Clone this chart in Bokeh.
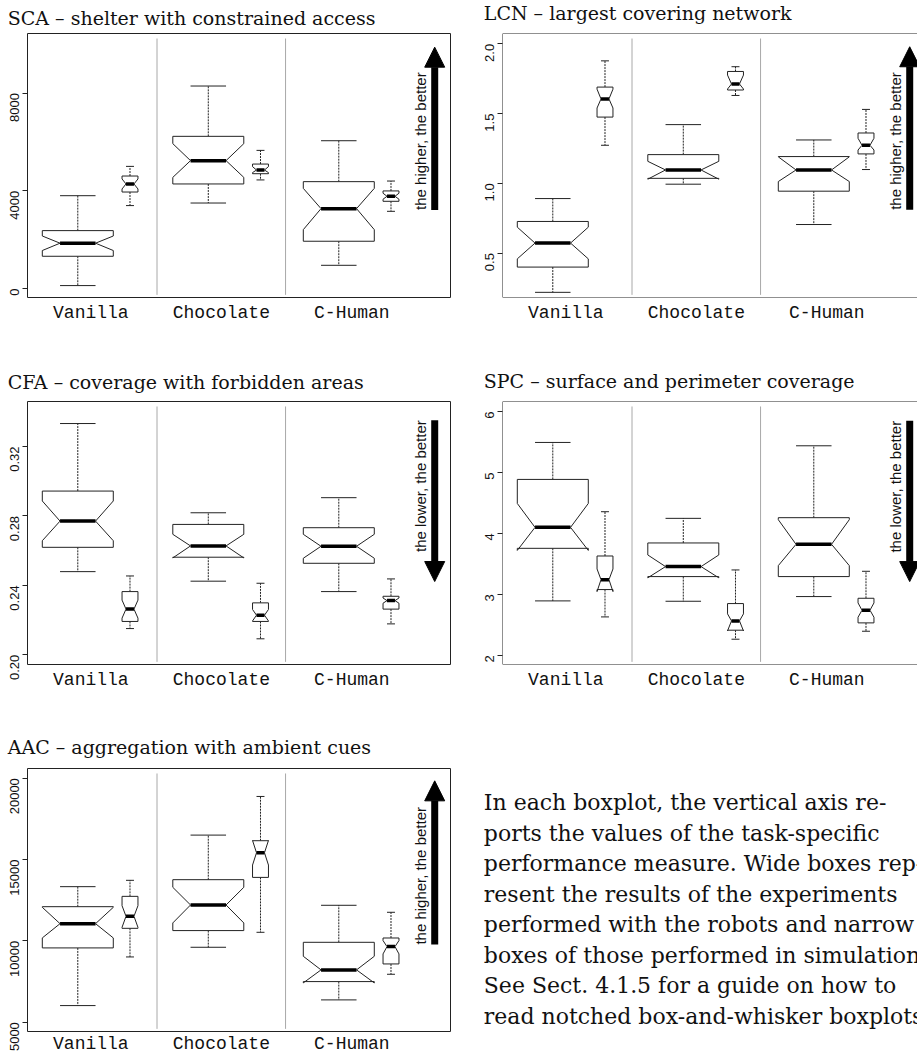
import math
from bokeh.plotting import figure
from bokeh.models import Range1d, FixedTicker, Arrow, NormalHead, Span, Label, ColumnDataSource, Spacer
from bokeh.layouts import row, column
from bokeh.embed import file_html
from bokeh.resources import INLINE
from bokeh.core.properties import value

groups = ["Vanilla", "Chocolate", "C-Human"]

# each tuple: lower whisker, Q1, notch low, median, notch high, Q3, upper whisker
sca_robots = [(120, 1320, 1555, 1855, 2150, 2370, 3800),
              (3500, 4280, 4550, 5235, 5930, 6230, 8290),
              (950, 1935, 2410, 3270, 4100, 4375, 6050)]
sca_sim = [(3395, 3950, 4075, 4280, 4485, 4605, 5000),
           (4445, 4700, 4745, 4850, 4990, 5095, 5655),
           (3160, 3570, 3655, 3775, 3900, 3995, 4400)]
sca_ticks = [0, 4000, 8000]
sca_tick_labels = ["0", "4000", "8000"]
sca_ylim = (-368, 10440)
sca_arrow = (3216, 9880)

lcn_robots = [(0.219, 0.400, 0.459, 0.572, 0.686, 0.727, 0.891),
              (0.994, 1.036, 1.030, 1.096, 1.158, 1.206, 1.421),
              (0.705, 0.944, 1.013, 1.096, 1.190, 1.192, 1.311)]
lcn_sim = [(1.273, 1.475, 1.540, 1.605, 1.675, 1.690, 1.878),
           (1.630, 1.669, 1.676, 1.712, 1.776, 1.802, 1.836),
           (1.099, 1.211, 1.239, 1.273, 1.323, 1.361, 1.530)]
lcn_ticks = [0.5, 1.0, 1.5, 2.0]
lcn_tick_labels = ["0.5", "1.0", "1.5", "2.0"]
lcn_ylim = (0.182, 2.074)
lcn_arrow = (0.810, 1.979)

cfa_robots = [(0.2479, 0.2619, 0.2657, 0.2770, 0.2886, 0.2943, 0.3332),
              (0.2424, 0.2562, 0.2558, 0.2627, 0.2694, 0.2751, 0.2818),
              (0.2364, 0.2527, 0.2556, 0.2625, 0.2694, 0.2732, 0.2905)]
cfa_sim = [(0.2151, 0.2192, 0.2211, 0.2263, 0.2315, 0.2364, 0.2454),
           (0.2092, 0.2192, 0.2195, 0.2228, 0.2261, 0.2299, 0.2412),
           (0.2178, 0.2263, 0.2297, 0.2312, 0.2327, 0.2337, 0.2437)]
cfa_ticks = [0.20, 0.24, 0.28, 0.32]
cfa_tick_labels = ["0.20", "0.24", "0.28", "0.32"]
cfa_ylim = (0.1944, 0.3459)
cfa_arrow = (0.3351, 0.2422)

spc_robots = [(2.891, 3.754, 3.720, 4.098, 4.490, 4.885, 5.492),
              (2.885, 3.290, 3.270, 3.454, 3.645, 3.842, 4.246),
              (2.962, 3.290, 3.470, 3.820, 4.224, 4.257, 5.437)]
spc_sim = [(2.628, 3.077, 3.044, 3.240, 3.415, 3.628, 4.355),
           (2.262, 2.410, 2.399, 2.563, 2.678, 2.847, 3.399),
           (2.393, 2.530, 2.623, 2.738, 2.858, 2.934, 3.377)]
spc_ticks = [2, 3, 4, 5, 6]
spc_tick_labels = ["2", "3", "4", "5", "6"]
spc_ylim = (1.847, 6.164)
spc_arrow = (5.847, 3.208)

aac_robots = [(6020, 9565, 10180, 11055, 12060, 12100, 13330),
              (9605, 10630, 11100, 12205, 13290, 13760, 16500),
              (6370, 7495, 7415, 8215, 9050, 9910, 12185)]
aac_sim = [(9010, 10770, 10830, 11510, 12160, 12735, 13720),
           (10525, 13900, 14660, 15415, 16170, 16155, 18875),
           (7945, 8580, 9195, 9645, 10015, 10175, 11755)]
aac_ticks = [5000, 10000, 15000, 20000]
aac_tick_labels = ["5000", "10000", "15000", "20000"]
aac_ylim = (4427, 20594)
aac_arrow = (9768, 19836)

note_lines = ["In each boxplot, the vertical axis re-",
              "ports the values of the task-specific",
              "performance measure. Wide boxes rep-",
              "resent the results of the experiments",
              "performed with the robots and narrow",
              "boxes of those performed in simulation.",
              "See Sect. 4.1.5 for a guide on how to",
              "read notched box-and-whisker boxplots."]

PX_PER_UNIT = 130.5
X0 = 0.6146
TITLE_H = [31, 32, 32]
ROW_H = [336, 335, 291]
ROW_TOP = [2, 2, 2]
FRAME_H = [264, 263, 263]
XLAB_STANDOFF = [5, 5, 2]
COL_W = [475, 442]
COL_LEFT = [27, 27]
FRAME_W = [423, 415]
TITLE_X = [7.3, 8.3]


def title_fig(text, col, rw, baseline):
    W, H = COL_W[col], TITLE_H[rw]
    t = figure(width=W, height=H, x_range=Range1d(0, W), y_range=Range1d(H, 0),
               output_backend="svg", toolbar_location=None, x_axis_location=None,
               y_axis_location=None, min_border_left=0, min_border_right=0,
               min_border_top=0, min_border_bottom=0)
    t.grid.visible = False
    t.outline_line_color = None
    t.background_fill_color = "white"
    t.border_fill_color = "white"
    t.text(x=[TITLE_X[col]], y=[baseline], text=[text], text_font=value("DejaVu Serif"),
           text_font_size="19px", text_baseline="alphabetic", text_align="left",
           text_color="#111111")
    return t


def panel(robots, sim, ticks, tick_labels, ylim, arrow, arrow_up, col, rw):
    W, H = COL_W[col], ROW_H[rw]
    fw, fh = FRAME_W[col], FRAME_H[rw]
    top = ROW_TOP[rw]
    bottom = H - top - fh
    left = COL_LEFT[col]
    right = W - left - fw
    x_end = X0 + fw / PX_PER_UNIT
    p = figure(width=W, height=H, x_range=Range1d(X0, x_end), y_range=Range1d(*ylim),
               output_backend="svg", toolbar_location=None,
               min_border_left=left, min_border_right=right,
               min_border_top=top, min_border_bottom=bottom)
    p.grid.visible = False
    p.background_fill_color = "white"
    p.border_fill_color = "white"

    ay = p.yaxis[0]
    ay.ticker = FixedTicker(ticks=ticks)
    ay.major_label_overrides = {t: l for t, l in zip(ticks, tick_labels)}
    ay.major_label_orientation = math.pi / 2
    ay.major_tick_out = 5
    ay.major_tick_in = 0
    ay.minor_tick_out = 0
    ay.minor_tick_in = 0
    ay.axis_line_color = None
    ay.major_tick_line_color = "#222222"
    ay.major_label_text_font = "Liberation Sans"
    ay.major_label_text_font_size = "13px"
    ay.major_label_text_color = "#111111"
    ay.major_label_standoff = 8

    ax = p.xaxis[0]
    ax.ticker = FixedTicker(ticks=[g + 1.1 for g in range(len(groups))])
    ax.major_label_overrides = {g + 1.1: name for g, name in enumerate(groups)}
    ax.major_tick_out = 0
    ax.major_tick_in = 0
    ax.minor_tick_out = 0
    ax.minor_tick_in = 0
    ax.axis_line_color = None
    ax.major_tick_line_color = None
    ax.major_label_text_font = "Liberation Mono"
    ax.major_label_text_font_size = "18px"
    ax.major_label_text_color = "#111111"
    ax.major_label_standoff = XLAB_STANDOFF[rw]

    if col == 0:
        p.outline_line_color = "#222222"
        p.outline_line_width = 1
    else:
        p.outline_line_color = None
        for loc, dim in [(ylim[0], "width"), (ylim[1], "width"), (X0, "height")]:
            p.add_layout(Span(location=loc, dimension=dim, line_color="#222222", line_width=1))

    span = ylim[1] - ylim[0]
    seps = [1.607, 2.592]
    p.segment(x0=seps, y0=[ylim[0] + 0.01 * span] * 2, x1=seps, y1=[ylim[1] - 0.019 * span] * 2,
              line_color="#a8a8a8", line_width=1)

    wx0, wy0, wx1, wy1 = [], [], [], []
    cx0, cy0, cx1, cy1 = [], [], [], []
    mx0, my0, mx1 = [], [], []
    pxs, pys = [], []
    for data, off, hw in [(robots, 0.0, 0.272), (sim, 0.4, 0.061)]:
        for gi, (wlo, q1, nlo, med, nhi, q3, whi) in enumerate(data):
            c = gi + 1 + off
            nw = hw / 2
            wx0 += [c, c]; wx1 += [c, c]
            wy0 += [q3, q1]; wy1 += [whi, wlo]
            cx0 += [c - nw, c - nw]; cx1 += [c + nw, c + nw]
            cy0 += [whi, wlo]; cy1 += [whi, wlo]
            mx0.append(c - nw); mx1.append(c + nw); my0.append(med)
            pxs.append([c - hw, c - hw, c - nw, c - hw, c - hw, c + hw, c + hw, c + nw, c + hw, c + hw])
            pys.append([q1, nlo, med, nhi, q3, q3, nhi, med, nlo, q1])
    p.segment(x0=wx0, y0=wy0, x1=wx1, y1=wy1, line_color="#222222", line_width=1, line_dash="2 1")
    p.segment(x0=cx0, y0=cy0, x1=cx1, y1=cy1, line_color="#222222", line_width=1)
    p.patches(xs=pxs, ys=pys, fill_color="white", line_color="#222222", line_width=1)
    p.segment(x0=mx0, y0=my0, x1=mx1, y1=my0, line_color="black", line_width=3.5)

    arrow_x = 3.735
    tail, tip = arrow
    p.add_layout(Arrow(end=NormalHead(size=20, fill_color="black", line_color="black", line_width=1),
                       x_start=arrow_x, y_start=tail, x_end=arrow_x, y_end=tip,
                       line_width=7, line_color="black"))
    txt = "the higher, the better" if arrow_up else "the lower, the better"
    p.add_layout(Label(x=3.625, y=tail, text=txt, angle=math.pi / 2,
                       text_align="left" if arrow_up else "right", text_baseline="middle",
                       text_font="Liberation Sans", text_font_size="15px", text_color="#111111"))
    return p


t1 = title_fig("SCA \u2013 shelter with constrained access", 0, 0, 17)
t2 = title_fig("LCN \u2013 largest covering network", 1, 0, 12.7)
t3 = title_fig("CFA \u2013 coverage with forbidden areas", 0, 1, 14)
t4 = title_fig("SPC \u2013 surface and perimeter coverage", 1, 1, 13.3)
t5 = title_fig("AAC \u2013 aggregation with ambient cues", 0, 2, 12.3)

p1 = panel(sca_robots, sca_sim, sca_ticks, sca_tick_labels, sca_ylim, sca_arrow, True, 0, 0)
p2 = panel(lcn_robots, lcn_sim, lcn_ticks, lcn_tick_labels, lcn_ylim, lcn_arrow, True, 1, 0)
p3 = panel(cfa_robots, cfa_sim, cfa_ticks, cfa_tick_labels, cfa_ylim, cfa_arrow, False, 0, 1)
p4 = panel(spc_robots, spc_sim, spc_ticks, spc_tick_labels, spc_ylim, spc_arrow, False, 1, 1)
p5 = panel(aac_robots, aac_sim, aac_ticks, aac_tick_labels, aac_ylim, aac_arrow, True, 0, 2)

tw, th = COL_W[1], ROW_H[2]
t_top = ROW_TOP[2]
t_fh = FRAME_H[2]
pt = figure(width=tw, height=th, x_range=Range1d(0, tw), y_range=Range1d(t_fh, 0),
            output_backend="svg", toolbar_location=None, x_axis_location=None,
            y_axis_location=None, min_border_left=0, min_border_right=0,
            min_border_top=t_top, min_border_bottom=th - t_top - t_fh)
pt.grid.visible = False
pt.outline_line_color = None
pt.background_fill_color = "white"
pt.border_fill_color = "white"
src = ColumnDataSource(dict(x=[8.3] * len(note_lines),
                            y=[34 + i * 30.5 for i in range(len(note_lines))],
                            t=note_lines))
pt.text(x="x", y="y", text="t", source=src, text_font=value("DejaVu Serif"),
        text_font_size="22px", text_baseline="alphabetic", text_align="left",
        text_color="#111111")

layout = column(row(t1, t2), row(p1, p2), row(t3, t4), row(p3, p4),
                row(t5, Spacer(width=COL_W[1], height=TITLE_H[2])), row(p5, pt))
open("out.html", "w").write(file_html(layout, INLINE))
